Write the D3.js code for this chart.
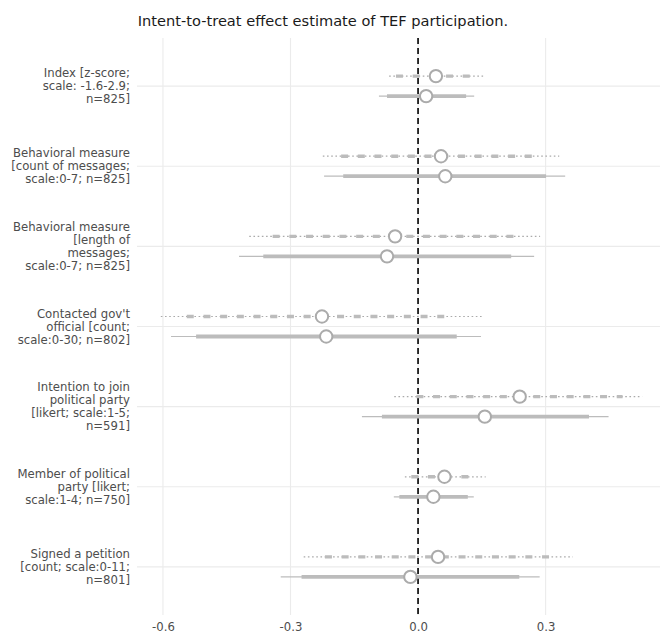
<!DOCTYPE html>
<html><head><meta charset="utf-8">
<script src="https://cdn.jsdelivr.net/npm/d3@7"></script>
<style>body{margin:0;background:#fff}svg{display:block}</style>
</head><body><svg id="c" width="660" height="637"></svg>
<script>
const categories = ["Index","Count","Length","Contacted","Intention","Member","Signed"];
const labelLines = [
  ["Index [z-score;","scale: -1.6-2.9;","n=825]"],
  ["Behavioral measure","[count of messages;","scale:0-7; n=825]"],
  ["Behavioral measure","[length of","messages;","scale:0-7; n=825]"],
  ["Contacted gov't","official [count;","scale:0-30; n=802]"],
  ["Intention to join","political party","[likert; scale:1-5;","n=591]"],
  ["Member of political","party [likert;","scale:1-4; n=750]"],
  ["Signed a petition","[count; scale:0-11;","n=801]"]
];
const series = ["dashed","solid"];
// dashed series (upper row)
const dashedEst  = [0.042, 0.054, -0.054, -0.226, 0.239, 0.062, 0.047];
const dashedLo95 = [-0.068, -0.224, -0.397, -0.605, -0.056, -0.031, -0.269];
const dashedHi95 = [0.153, 0.332, 0.287, 0.151, 0.527, 0.159, 0.364];
const dashedLo90 = [-0.052, -0.181, -0.342, -0.544, -0.004, -0.016, -0.219];
const dashedHi90 = [0.130, 0.283, 0.233, 0.072, 0.481, 0.123, 0.313];
// solid series (lower row)
const solidEst  = [0.019, 0.064, -0.073, -0.216, 0.157, 0.036, -0.018];
const solidLo95 = [-0.092, -0.221, -0.421, -0.581, -0.132, -0.057, -0.323];
const solidHi95 = [0.132, 0.346, 0.273, 0.148, 0.448, 0.131, 0.286];
const solidLo90 = [-0.073, -0.176, -0.364, -0.522, -0.085, -0.044, -0.274];
const solidHi90 = [0.113, 0.301, 0.219, 0.091, 0.402, 0.117, 0.238];
const xTicks = [-0.6, -0.3, 0.0, 0.3];
const titleText = "Intent-to-treat effect estimate of TEF participation.";

const rows = [];
categories.forEach((c,i)=>{
  rows.push({cat:c, s:"dashed", est:dashedEst[i], lo95:dashedLo95[i], hi95:dashedHi95[i], lo90:dashedLo90[i], hi90:dashedHi90[i]});
  rows.push({cat:c, s:"solid", est:solidEst[i], lo95:solidLo95[i], hi95:solidHi95[i], lo90:solidLo90[i], hi90:solidHi90[i]});
});

const svg = d3.select("#c");
const L = 137, R = 660, T = 38, B = 615;
const x = d3.scaleLinear().domain([-0.661, 0.569]).range([L, R]);
const y = d3.scalePoint().domain(categories).range([T, B]).padding(0.6);
const off = d3.scalePoint().domain(series).range([-10, 10]);
const font = "DejaVu Sans, sans-serif";
const lineCol = "#bcbcbc";

// grid
svg.append("g").selectAll("line.v").data(xTicks).join("line")
  .attr("x1", d=>x(d)).attr("x2", d=>x(d)).attr("y1", T).attr("y2", B)
  .attr("stroke", "#ebebeb").attr("stroke-width", 1.1);
svg.append("g").selectAll("line.h").data(categories).join("line")
  .attr("x1", L).attr("x2", R).attr("y1", d=>y(d)).attr("y2", d=>y(d))
  .attr("stroke", "#ebebeb").attr("stroke-width", 1.1);

// x axis labels
const fmt = d3.format(".1f");
const xa = svg.append("g").attr("transform", `translate(0,${B})`)
  .call(d3.axisBottom(x).tickValues(xTicks).tickFormat(d=>fmt(d).replace("\u2212","-")).tickSize(0).tickPadding(8));
xa.select(".domain").remove();
xa.selectAll("text").attr("fill", "#4d4d4d").attr("font-size", "11.7px").attr("font-family", font);

// y labels
const lh = 13;
const yl = svg.append("g");
categories.forEach((c,i)=>{
  const lines = labelLines[i];
  const t = yl.append("text").attr("text-anchor","end").attr("font-family",font)
    .attr("font-size","11.7px").attr("fill","#4d4d4d");
  lines.forEach((ln,j)=>{
    t.append("tspan").attr("x", 130)
      .attr("y", y(c) + (j - (lines.length-1)/2)*lh + 4.2).text(ln);
  });
});

// zero line
svg.append("line").attr("x1", x(0)).attr("x2", x(0)).attr("y1", T).attr("y2", B)
  .attr("stroke", "#1a1a1a").attr("stroke-width", 1.8).attr("stroke-dasharray", "6,4");

// intervals
const g = svg.append("g");
g.selectAll("line.thin").data(rows).join("line")
  .attr("x1", d=>x(d.lo95)).attr("x2", d=>x(d.hi95))
  .attr("y1", d=>y(d.cat)+off(d.s)).attr("y2", d=>y(d.cat)+off(d.s))
  .attr("stroke", d=>d.s==="dashed" ? "#aaaaaa" : lineCol).attr("stroke-width", 1.2)
  .attr("stroke-dasharray", d=>d.s==="dashed" ? "1.6,2.6" : null);
g.selectAll("line.thick").data(rows).join("line")
  .attr("x1", d=>x(d.lo90)).attr("x2", d=>x(d.hi90))
  .attr("y1", d=>y(d.cat)+off(d.s)).attr("y2", d=>y(d.cat)+off(d.s))
  .attr("stroke", lineCol).attr("stroke-width", d=>d.s==="dashed" ? 3.4 : 3.8)
  .attr("stroke-dasharray", d=>d.s==="dashed" ? "7,9.7" : null);
g.selectAll("circle").data(rows).join("circle")
  .attr("cx", d=>x(d.est)).attr("cy", d=>y(d.cat)+off(d.s)).attr("r", 6.2)
  .attr("fill", "#fff").attr("stroke", "#ababab").attr("stroke-width", 2);

// title
svg.append("text").attr("x", 323).attr("y", 26).attr("text-anchor","middle")
  .attr("font-family", font).attr("font-size","14.6px").attr("fill","#1a1a1a").text(titleText);
</script></body></html>
